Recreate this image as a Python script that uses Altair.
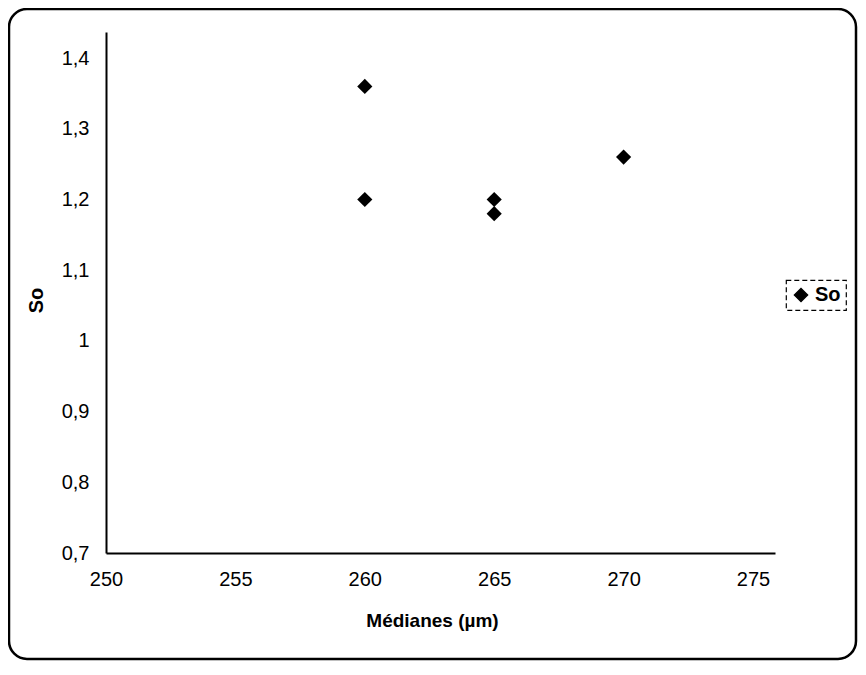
import altair as alt
import pandas as pd

# Data
medianes = [260, 260, 265, 265, 270]
so_values = [1.36, 1.20, 1.20, 1.18, 1.26]
series = ["So"] * 5
x_ticks = [250, 255, 260, 265, 270, 275]
y_ticks = [0.7, 0.8, 0.9, 1.0, 1.1, 1.2, 1.3, 1.4]

df = pd.DataFrame({"Medianes": medianes, "So": so_values, "serie": series})
frame_df = pd.DataFrame({"k": [0]})

FONT = "Liberation Sans"

points = alt.Chart(df).mark_point(shape="diamond", filled=True, size=230, opacity=1).encode(
    x=alt.X(
        "Medianes:Q",
        scale=alt.Scale(domain=[250, 275.85], nice=False, zero=False),
        axis=alt.Axis(
            values=x_ticks, title="Médianes (µm)", grid=False, ticks=False,
            labelFontSize=20, labelPadding=16, labelFont=FONT, labelColor="black",
            domainColor="black", domainWidth=2,
            titleFont=FONT, titleFontSize=19, titleFontWeight="bold", titleColor="black",
            titleX=326, titleY=58, titleAnchor="start", titleAlign="center",
            labelFlush=False,
        ),
    ),
    y=alt.Y(
        "So:Q",
        scale=alt.Scale(domain=[0.7, 1.437], nice=False, zero=False),
        axis=alt.Axis(
            values=y_ticks, title="So", grid=False, ticks=False,
            labelExpr="replace(toString(datum.value), '.', ',')",
            labelFontSize=20, labelPadding=17, labelFont=FONT, labelColor="black",
            domainColor="black", domainWidth=2,
            titleFont=FONT, titleFontSize=20, titleFontWeight="bold", titleColor="black",
            titleAngle=-90, titleX=-70, titleY=268, titleAlign="center", titleBaseline="middle",
            labelFlush=False,
        ),
    ),
    color=alt.Color(
        "serie:N",
        scale=alt.Scale(range=["black"]),
        legend=alt.Legend(
            title=None, orient="none", legendX=680, legendY=248,
            symbolType="diamond", symbolSize=170, symbolFillColor="black",
            symbolStrokeColor="black",
            labelFont=FONT, labelFontSize=20, labelFontWeight="bold", labelColor="black",
            padding=5, strokeColor="black", labelOffset=4,
        ),
    ),
)

frame = alt.Chart(frame_df).mark_rect(
    filled=False, stroke="black", strokeWidth=2.5, cornerRadius=18
).encode(
    x=alt.value(-97), x2=alt.value(750), y=alt.value(-23), y2=alt.value(627)
)

chart = alt.layer(frame, points).properties(
    width=669, height=521,
    padding={"left": 98, "top": 24, "right": 83, "bottom": 108},
    autosize=alt.AutoSizeParams(type="none"),
).configure_view(stroke=None).configure_legend(
    strokeDash=[5, 3], strokeWidth=1.2
)

chart.save("out.html", embed_options={"renderer": "svg", "actions": False})
